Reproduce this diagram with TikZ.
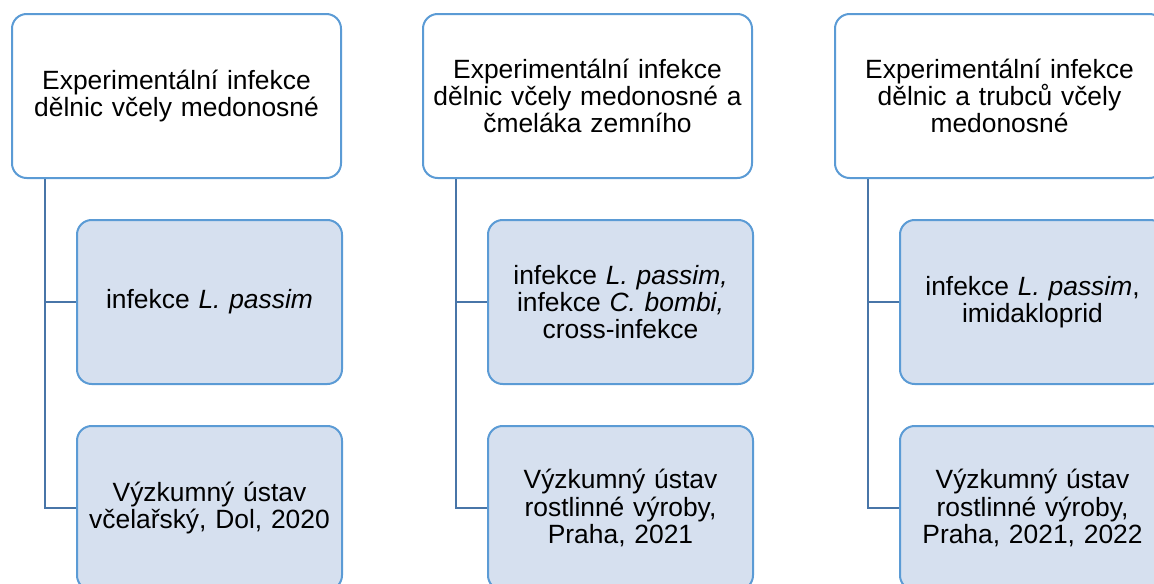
\documentclass[tikz,border=0pt]{standalone}
\usepackage{fontspec}
\setmainfont{Liberation Sans}
\definecolor{boxborder}{RGB}{91,155,213}
\definecolor{linkcol}{RGB}{72,117,168}
\definecolor{childfill}{RGB}{214,224,239}
\tikzset{
  topbox/.style={draw=boxborder, line width=1.5pt, rounded corners=11pt, fill=white,
    minimum width=246.75pt, minimum height=123pt, inner sep=0pt, align=center,
    font=\fontsize{19.8pt}{20.5pt}\selectfont, text width=240pt},
  childbox/.style={draw=boxborder, line width=1.5pt, rounded corners=11pt, fill=childfill,
    minimum width=198.75pt, minimum height=123pt, inner sep=0pt, align=center,
    font=\fontsize{19.8pt}{20.5pt}\selectfont, text width=195pt},
  link/.style={draw=linkcol, line width=1.5pt}
}
\begin{document}
\begin{tikzpicture}[x=0.75pt,y=-0.75pt]
\useasboundingbox (0,0) rectangle (1154,583);
\clip (0,0) rectangle (1154,583);
% column 1
\node[topbox] (t1) at (176.5,96) {Experimentální infekce\\dělnic včely medonosné};
\node[childbox] (a1) at (209.5,302) {infekce \textit{L. passim}};
\node[childbox] (b1) at (209.5,508) {Výzkumný ústav\\včelařský, Dol, 2020};
% column 2
\node[topbox] (t2) at (587.5,96) {Experimentální infekce\\dělnic včely medonosné a\\čmeláka zemního};
\node[childbox] (a2) at (620.5,302) {infekce \textit{L. passim,}\\infekce \textit{C. bombi,}\\cross-infekce};
\node[childbox] (b2) at (620.5,508) {Výzkumný ústav\\rostlinné výroby,\\Praha, 2021};
% column 3
\node[topbox] (t3) at (999.5,96) {Experimentální infekce\\dělnic a trubců včely\\medonosné};
\node[childbox] (a3) at (1032.5,302) {infekce \textit{L. passim},\\imidakloprid};
\node[childbox] (b3) at (1032.5,508) {Výzkumný ústav\\rostlinné výroby,\\Praha, 2021, 2022};
% connectors
\foreach \c in {1,2,3}{
  \coordinate (s\c) at ([xshift=-98.5pt]t\c.south);
  \draw[link] (s\c) |- (a\c.west);
  \draw[link] (s\c) |- (b\c.west);
}
\end{tikzpicture}
\end{document}
